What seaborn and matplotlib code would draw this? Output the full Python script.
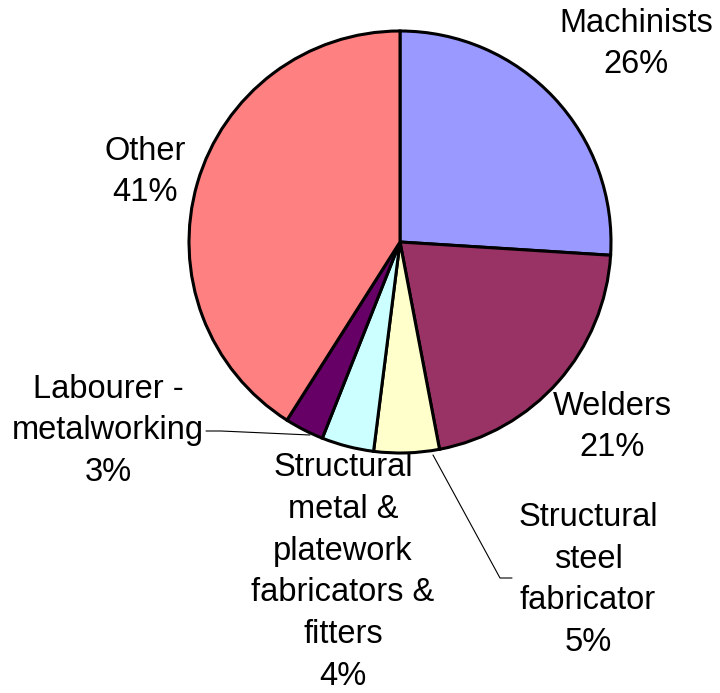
import matplotlib
matplotlib.use("Agg")
import matplotlib.pyplot as plt
import seaborn as sns

# occupations, clockwise from 12 o'clock
categories = [
    "Machinists",
    "Welders",
    "Structural\nsteel\nfabricator",
    "Structural\nmetal &\nplatework\nfabricators &\nfitters",
    "Labourer -\nmetalworking",
    "Other",
]
shares = [26, 21, 5, 4, 3, 41]
colors = ["#9999FF", "#993366", "#FFFFCC", "#CCFFFF", "#660066", "#FF8080"]

# label block centres in pixel space (x, y from top)
label_pos = [(636, 44), (612, 427), (588, 580), (343, 572), (108, 431), (145, 172)]

sns.set_theme(style="white")
plt.rcParams["font.family"] = ["Liberation Sans", "DejaVu Sans"]

W, H = 720, 693
fig = plt.figure(figsize=(W / 100, H / 100), dpi=100)
ax = fig.add_axes([0, 0, 1, 1])

ax.pie(
    shares,
    colors=colors,
    startangle=90,
    counterclock=False,
    center=(400, H - 242),
    radius=211,
    frame=True,
    wedgeprops=dict(edgecolor="black", linewidth=2.2),
)
ax.set_xlim(0, W)
ax.set_ylim(0, H)
ax.set_aspect("equal")
ax.axis("off")

for name, val, (x, y) in zip(categories, shares, label_pos):
    ax.text(x, H - y, f"{name}\n{val}%", ha="center", va="center",
            fontsize=23.5, linespacing=1.45, color="black")

# leader lines
ax.plot([206, 221, 310], [H - 431, H - 431, H - 435], color="black", lw=0.8)
ax.plot([433, 500, 512], [H - 455, H - 578, H - 578], color="black", lw=0.8)

fig.savefig("out.png", dpi=100)
